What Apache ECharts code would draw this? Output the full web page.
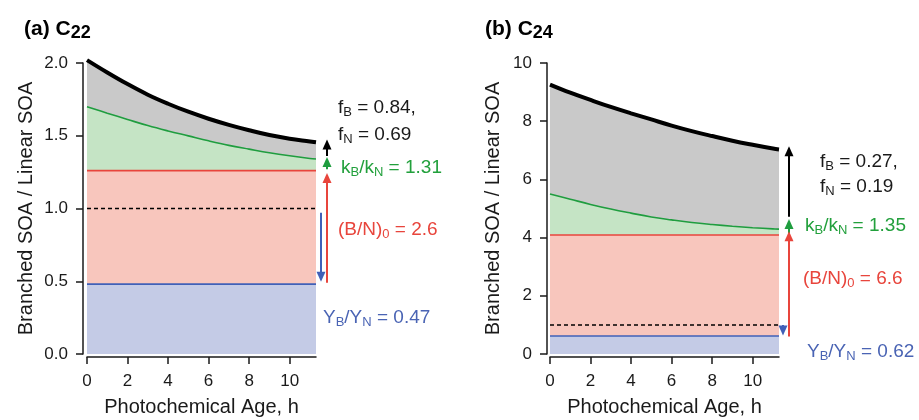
<!DOCTYPE html>
<html>
<head>
<meta charset="utf-8">
<script src="https://cdn.jsdelivr.net/npm/echarts@6/dist/echarts.min.js"></script>
<style>html,body{margin:0;padding:0;background:#fff}#main{width:919px;height:420px}</style>
</head>
<body>
<div id="main"></div>
<script>
// ---------------- data ----------------
const hours = [0, 1, 2, 3, 4, 5, 6, 7, 8, 9, 10, 11, 11.3];
const xTicks = [0, 2, 4, 6, 8, 10];

// (a) C22
const totalC22    = [2.02, 1.935, 1.855, 1.782, 1.72, 1.665, 1.617, 1.575, 1.538, 1.505, 1.48, 1.461, 1.455];
const kineticsC22 = [1.70, 1.655, 1.612, 1.570, 1.533, 1.499, 1.465, 1.434, 1.408, 1.383, 1.362, 1.344, 1.34];
const initialC22 = 1.26;
const yieldC22 = 0.48;
const yTicksC22 = [0, 0.5, 1.0, 1.5, 2.0];
const arrowFromC22 = [1.36, 1.27, 0.49, 0.97];   // total, kinetics, initial, yield
const arrowToC22   = [1.47, 1.35, 1.24, 0.50];
const labelsC22 = ['0.84', '0.69', '1.31', '2.6', '0.47'];

// (b) C24
const totalC24    = [9.26, 8.98, 8.73, 8.49, 8.27, 8.06, 7.85, 7.66, 7.49, 7.33, 7.19, 7.06, 7.03];
const kineticsC24 = [5.50, 5.32, 5.14, 4.98, 4.84, 4.71, 4.61, 4.52, 4.45, 4.39, 4.34, 4.30, 4.29];
const initialC24 = 4.09;
const yieldC24 = 0.62;
const yTicksC24 = [0, 2, 4, 6, 8, 10];
const arrowFromC24 = [4.72, 4.15, 0.60, 1.00];
const arrowToC24   = [7.12, 4.62, 4.20, 0.65];
const labelsC24 = ['0.27', '0.19', '1.35', '6.6', '0.62'];

const linearRef = 1.0;
const panelTitles = [['(a) C', '22'], ['(b) C', '24']];

// ---------------- styling / layout ----------------
const FONT = '"Liberation Sans", Arial, Helvetica, sans-serif';
const GRID_TOP = 63, GRID_H = 291, GRID_W = 229;
const COL = {
  black: '#000000', gray: '#c9c9c9',
  green: '#1f9d3f', greenFill: '#c5e4c5', greenText: '#22a03c',
  red: '#e8453c', redFill: '#f8c6bd', redText: '#e8453c',
  blue: '#4060b8', blueFill: '#c4cbe6', blueText: '#4a64b4',
  axis: '#1a1a1a', text: '#1a1a1a'
};

const panels = [
  { left: 87, annLeft: 316, yTicks: yTicksC22, total: totalC22, kin: kineticsC22, init: initialC22, yld: yieldC22,
    from: arrowFromC22, to: arrowToC22, labels: labelsC22, dec: 1, yOffset: 4, nameGap: 47, arrowX: 11, blueX: 5,
    text: [[338, 108], [338, 135], [341, 168], [338, 230], [323, 318]], title: [24, 29] },
  { left: 550, annLeft: 779, yTicks: yTicksC24, total: totalC24, kin: kineticsC24, init: initialC24, yld: yieldC24,
    from: arrowFromC24, to: arrowToC24, labels: labelsC24, dec: 0, yOffset: 3, nameGap: 44, arrowX: 10, blueX: 4,
    text: [[820, 162], [820, 187], [805, 226], [803, 279], [807, 352]], title: [485, 29] }
];

const grid = [], xAxis = [], yAxis = [], series = [], graphic = [];
const pts = arr => hours.map((h, k) => [h, arr[k]]);
const flat = v => [[hours[0], v], [hours[hours.length - 1], v]];

panels.forEach((p, i) => {
  const yMin = p.yTicks[0], yMax = p.yTicks[p.yTicks.length - 1];
  const yInt = p.yTicks[1] - p.yTicks[0];
  const gi = 2 * i;       // plot grid / axes index
  const ai = 2 * i + 1;   // annotation grid / axes index

  grid.push({ left: p.left, top: GRID_TOP, width: GRID_W, height: GRID_H, containLabel: false, outerBoundsMode: 'none' });
  xAxis.push({
    gridIndex: gi, type: 'value', min: hours[0], max: hours[hours.length - 1], offset: 3,
    axisLine: { show: true, onZero: false, lineStyle: { color: COL.axis, width: 1.5 } },
    axisTick: { show: true, length: 7, customValues: xTicks, lineStyle: { color: COL.axis, width: 1.5 } },
    axisLabel: { customValues: xTicks, fontSize: 17, fontFamily: FONT, color: COL.text, margin: 16 },
    splitLine: { show: false },
    name: 'Photochemical Age, h', nameLocation: 'middle', nameGap: 40,
    nameTextStyle: { fontSize: 20, fontFamily: FONT, color: COL.text }
  });
  yAxis.push({
    gridIndex: gi, type: 'value', min: yMin, max: yMax, interval: yInt, offset: p.yOffset,
    axisLine: { show: true, onZero: false, lineStyle: { color: COL.axis, width: 1.5 } },
    axisTick: { show: true, length: 7, lineStyle: { color: COL.axis, width: 1.5 } },
    axisLabel: { fontSize: 17, fontFamily: FONT, color: COL.text, margin: 15, formatter: v => v.toFixed(p.dec) },
    splitLine: { show: false },
    name: 'Branched SOA / Linear SOA', nameLocation: 'middle', nameGap: p.nameGap, nameRotate: 90,
    nameTextStyle: { fontSize: 20, fontFamily: FONT, color: COL.text }
  });

  // annotation area to the right of each panel (same y scale)
  grid.push({ left: p.annLeft, top: GRID_TOP, width: 100, height: GRID_H, containLabel: false, outerBoundsMode: 'none' });
  xAxis.push({ gridIndex: ai, type: 'value', min: 0, max: 100, show: false });
  yAxis.push({ gridIndex: ai, type: 'value', min: yMin, max: yMax, show: false });

  const common = { xAxisIndex: gi, yAxisIndex: gi, symbol: 'none', clip: false, silent: true, animation: false };
  series.push(Object.assign({ type: 'line', data: pts(p.total), smooth: 0.4,
    lineStyle: { color: COL.black, width: 4 }, areaStyle: { color: COL.gray, opacity: 1, origin: 'start' } }, common));
  series.push(Object.assign({ type: 'line', data: pts(p.kin), smooth: 0.4,
    lineStyle: { color: COL.green, width: 1.6 }, areaStyle: { color: COL.greenFill, opacity: 1, origin: 'start' } }, common));
  series.push(Object.assign({ type: 'line', data: flat(p.init),
    lineStyle: { color: COL.red, width: 1.6 }, areaStyle: { color: COL.redFill, opacity: 1, origin: 'start' } }, common));
  series.push(Object.assign({ type: 'line', data: flat(p.yld),
    lineStyle: { color: COL.blue, width: 1.6 }, areaStyle: { color: COL.blueFill, opacity: 1, origin: 'start' } }, common));
  series.push(Object.assign({ type: 'line', data: flat(linearRef),
    lineStyle: { color: COL.black, width: 1.5, type: [4, 3] } }, common));

  const half = 4.5 / (GRID_H / (yMax - yMin));
  const arrowColors = [COL.black, COL.green, COL.red, COL.blue];
  series.push({
    type: 'line', xAxisIndex: ai, yAxisIndex: ai, data: [], symbol: 'none', clip: false, silent: true, animation: false,
    markLine: {
      silent: true, animation: false, symbol: ['none', 'triangle'], symbolSize: [9, 10],
      label: { show: false }, lineStyle: { type: 'solid', width: 2 },
      data: arrowColors.map((c, k) => {
        const x = k === 3 ? p.blueX : p.arrowX;
        const dir = Math.sign(p.to[k] - p.from[k]);
        return [
          { coord: [x, p.from[k]], lineStyle: { color: c, type: 'solid', width: 2 } },
          { coord: [x, p.to[k] - dir * half] }
        ];
      })
    }
  });

  // annotation texts
  const rich = color => ({
    n: { fontSize: 19, fontFamily: FONT, fill: color, lineHeight: 26 },
    s: { fontSize: 13, fontFamily: FONT, fill: color, lineHeight: 26, padding: [9, 0, 0, 0] }
  });
  const texts = [
    ['{n|f}{s|B}{n| = ' + p.labels[0] + ',}', COL.text],
    ['{n|f}{s|N}{n| = ' + p.labels[1] + '}', COL.text],
    ['{n|k}{s|B}{n|/k}{s|N}{n| = ' + p.labels[2] + '}', COL.greenText],
    ['{n|(B/N)}{s|0}{n| = ' + p.labels[3] + '}', COL.redText],
    ['{n|Y}{s|B}{n|/Y}{s|N}{n| = ' + p.labels[4] + '}', COL.blueText]
  ];
  texts.forEach((t, k) => {
    graphic.push({ type: 'text', x: p.text[k][0], y: p.text[k][1], silent: true,
      style: { text: t[0], fill: t[1], font: '19px ' + FONT, align: 'left', verticalAlign: 'middle', rich: rich(t[1]) } });
  });
  graphic.push({ type: 'text', x: p.title[0], y: p.title[1], silent: true,
    style: { text: '{m|' + panelTitles[i][0] + '}{t|' + panelTitles[i][1] + '}', fill: '#000',
      font: 'bold 21px ' + FONT, align: 'left', verticalAlign: 'middle',
      rich: { m: { fontSize: 21, fontWeight: 'bold', fontFamily: FONT, fill: '#000', lineHeight: 28 },
              t: { fontSize: 18, fontWeight: 'bold', fontFamily: FONT, fill: '#000', lineHeight: 28, padding: [9, 0, 0, 0] } } } });
});

const chart = echarts.init(document.getElementById('main'), null, { renderer: 'canvas' });
chart.setOption({ animation: false, backgroundColor: '#ffffff', grid, xAxis, yAxis, series, graphic });
</script>
</body>
</html>
